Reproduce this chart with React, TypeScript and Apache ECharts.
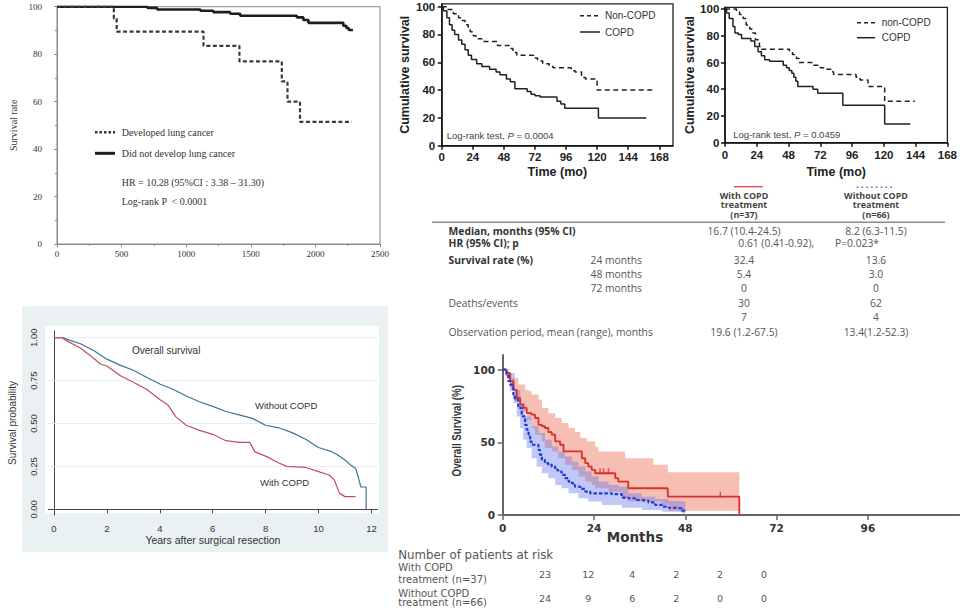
import React, { useEffect, useRef } from "react";
import * as echarts from "echarts";

// ---------- Panel A: lung cancer development (days, survival %) ----------
const aDevelopedLungCancer: number[][] = [[0, 100], [440, 95], [462, 89.5], [1134, 83.5], [1412, 77], [1740, 68.5], [1784, 60], [1881, 51.5], [2281, 51.5]];
const aNoLungCancer: number[][] = [[0, 100], [700, 99.5], [775, 98.8], [1110, 98.3], [1210, 97.7], [1340, 97], [1418, 96.2], [1856, 95.5], [1907, 94.4], [1946, 93.2], [2216, 92], [2240, 91], [2258, 90.2], [2290, 90]];

// ---------- Panel B: cumulative survival (months, %) ----------
const bNonCopd: number[][] = [[0, 100], [5, 98], [9, 95], [13, 92], [15.5, 90], [18, 87], [20.5, 85], [22, 82], [24.5, 79], [26.5, 77], [31, 75], [43, 72], [52, 70], [55, 67], [58, 65], [71, 63], [74, 61], [78, 59], [83, 57], [86, 56], [100, 54], [103, 53], [108, 49], [111, 48], [120, 40], [164, 40]];
const bCopd: number[][] = [[0, 100], [1.3, 97], [4, 92], [6, 87], [8, 83], [10, 80], [13, 76], [15.5, 73], [18, 69], [20.5, 65], [23, 62], [27, 59], [31, 57], [37, 55], [42, 53], [45, 51], [50, 48], [53, 46], [56.5, 41], [66, 39], [69, 37], [72, 36], [76, 35], [89, 32], [92, 30], [95, 27], [121, 20], [158, 20]];

// ---------- Panel C: cumulative survival (months, %) ----------
const cNonCopd: number[][] = [[0, 100], [8.7, 98.5], [11, 96], [13.7, 93], [16, 88], [18.7, 85], [21, 82], [23, 77], [26, 72], [27.5, 70], [48.7, 68], [51, 66], [54, 63], [56, 60], [67, 58], [72, 56], [77, 55], [80, 53], [82, 51], [99, 49], [102, 47], [108, 42], [120.6, 31], [143.5, 31]];
const cCopd: number[][] = [[0, 100], [1.2, 97], [3.2, 93], [6, 87], [7.5, 82], [10, 81], [12.5, 78], [19.5, 76], [22.5, 72], [25, 68], [27.5, 65], [30, 62], [33.7, 61], [44, 58], [46.5, 56], [48.5, 54], [50.5, 52], [52, 49], [53.5, 46], [55, 42], [66.5, 40], [70, 37], [89, 28], [120.6, 14], [140, 14]];

// ---------- Panel D: survival probability (years) ----------
const dWithoutCopd: number[][] = [[0, 1], [0.3, 1], [0.5, 0.99], [1, 0.965], [1.5, 0.925], [2, 0.875], [2.5, 0.84], [3, 0.81], [3.5, 0.77], [4, 0.73], [4.5, 0.7], [5, 0.66], [5.5, 0.627], [6, 0.6], [6.5, 0.57], [7, 0.55], [7.5, 0.53], [8, 0.49], [8.5, 0.475], [9, 0.447], [9.5, 0.41], [10, 0.36], [10.5, 0.336], [10.7, 0.32], [11, 0.287], [11.2, 0.26], [11.4, 0.24], [11.5, 0.19], [11.6, 0.13], [11.8, 0.13], [11.8, 0]];
const dWithCopd: number[][] = [[0, 1], [0.3, 1], [0.5, 0.98], [1, 0.94], [1.5, 0.88], [1.75, 0.847], [2, 0.835], [2.5, 0.78], [3, 0.74], [3.5, 0.7], [4, 0.64], [4.3, 0.61], [4.6, 0.54], [5, 0.49], [5.5, 0.46], [6, 0.437], [6.5, 0.4], [7, 0.39], [7.4, 0.39], [7.6, 0.335], [8, 0.31], [8.5, 0.27], [8.8, 0.25], [9.5, 0.245], [10, 0.22], [10.4, 0.2], [10.6, 0.17], [10.8, 0.093], [11, 0.074], [11.4, 0.074]];
const dGridValues = [0.25, 0.5, 0.75, 1];

// ---------- Panel E: overall survival (months, %) with 95% CI ----------
const eWithLine: number[][] = [[0, 100], [1, 97.7], [1.9, 92], [2.8, 86], [3.7, 80.5], [4.6, 75.9], [5.4, 73.6], [6.3, 70], [7.6, 69], [8.5, 66.7], [9.4, 62], [10.3, 61], [11.1, 59.8], [12, 57], [12.9, 55.2], [13.8, 50.6], [15.1, 48.3], [16, 43.7], [20.8, 39], [21.7, 35.6], [22.5, 33.3], [23.4, 31], [24.3, 28.7], [29.6, 25.3], [30.4, 23], [33, 18.4], [43.4, 12.6], [62.2, 0]];
const eWithUpper: number[][] = [[0, 100], [1.5, 97.7], [2.4, 94], [4.1, 89.7], [5.9, 86], [6.8, 85], [7.6, 82.8], [9.4, 79.3], [10.3, 73.6], [12, 70], [13.8, 66.7], [15.5, 63.2], [17.3, 59.8], [19, 57], [20.4, 52.9], [22.1, 50.6], [24.3, 47], [25.2, 43.7], [32.2, 39], [39.6, 34.5], [43.4, 29.4], [62.2, 29.4]];
const eWithLower: number[][] = [[0, 100], [1, 95.4], [1.9, 87.4], [3.2, 78], [4.6, 71.3], [6.3, 65.5], [7.6, 59.8], [8.5, 55.2], [10.3, 50.6], [11.1, 46], [12.9, 43.7], [14.6, 39], [16.4, 34.5], [18.2, 31], [19.9, 26.4], [21.7, 23], [23.4, 20.7], [24.3, 18.4], [27.8, 16], [31.3, 11.5], [33, 9.2], [41.8, 6.9], [43.6, 3], [62.2, 3]];
const eWithCensored: number[][] = [[25.6, 28.7], [26.5, 28.7], [27.8, 28.7], [57.2, 12.6]];
const eWithoutLine: number[][] = [[0, 100], [1, 96.6], [1.5, 92], [1.9, 89.7], [2.8, 82.8], [3.2, 79.3], [4.1, 73.6], [5, 67.8], [5.9, 62], [6.3, 58.6], [6.8, 55.2], [7.2, 50.6], [7.6, 48.3], [9.4, 44.8], [9.8, 41.4], [10.3, 37.9], [11.1, 35.6], [12, 34.5], [12.9, 33.3], [13.8, 31], [14.6, 29.9], [15.5, 27.6], [16.4, 25.3], [17.3, 23], [18.2, 21.8], [19, 19.5], [20.4, 17.9], [21.7, 16.1], [23, 14.9], [28.7, 14.3], [31.3, 12], [33, 11.5], [34.8, 10.3], [36.6, 9.9], [38.3, 8.7], [40.1, 6.9], [41.8, 5.7], [43.6, 5], [45.4, 4.6], [47.1, 3], [48, 2.5]];
const eWithoutUpper: number[][] = [[0, 100], [1.5, 97.7], [3.2, 86], [4.6, 77], [5.9, 67.8], [7.6, 61], [9.4, 56.3], [11.1, 51.7], [12.9, 47], [14.6, 43.7], [16.4, 40.2], [18.2, 36.8], [19.9, 33.3], [21.7, 29.9], [23.4, 26.4], [25.2, 23], [27.8, 20.7], [30.4, 19.5], [33, 14.9], [36.6, 12.6], [40.1, 11], [43.6, 9.7], [47.1, 9.2], [48, 9.2]];
const eWithoutLower: number[][] = [[0, 100], [1, 94], [1.9, 85], [2.8, 77], [3.7, 67.8], [4.6, 59.8], [5.4, 51.7], [6.3, 46], [7.6, 39], [8.9, 33.3], [10.3, 28.7], [12, 25.3], [13.8, 20.7], [15.5, 18.4], [17.3, 14.9], [19.9, 11.5], [22.5, 9.2], [26.1, 6.9], [31.3, 5], [36.6, 3.4], [41.8, 2.3], [47.1, 1.1], [48, 1.1]];
const eRiskWith = [23, 12, 4, 2, 2, 0];
const eRiskWithout = [24, 9, 6, 2, 0, 0];

// ---------- Table ----------
const tblHeaderWith = ["With COPD", "treatment", "(n=37)"];
const tblHeaderWithout = ["Without COPD", "treatment", "(n=66)"];
const tblMedian = ["16.7 (10.4-24.5)", "8.2 (6.3-11.5)"];
const tblHR = ["0.61 (0.41-0.92),", "P=0.023*"];
const tblSurvivalMonths = ["24 months", "48 months", "72 months"];
const tblSurvivalWith = ["32.4", "5.4", "0"];
const tblSurvivalWithout = ["13.6", "3.0", "0"];
const tblDeaths = ["30", "62"];
const tblEvents = ["7", "4"];
const tblObservation = ["19.6 (1.2-67.5)", "13.4(1.2-52.3)"];

const SERIF = "'Liberation Serif', 'Times New Roman', serif";
const ARIAL = "'Liberation Sans', Arial, sans-serif";
const OPEN = "'Open Sans', 'Liberation Sans', sans-serif";
const VERD = "'DejaVu Sans', Verdana, sans-serif";

function txt(x: number, y: number, text: string, size: number, family: string, opts: any = {}) {
  return {
    type: "text",
    x,
    y,
    silent: true,
    rotation: opts.rotation || 0,
    scaleX: opts.scaleX || 1,
    z: 50,
    style: {
      text,
      fontSize: size,
      fontFamily: family,
      fontWeight: opts.weight || "normal",
      fontStyle: opts.style || "normal",
      fill: opts.fill || "#333",
      align: opts.align || "left",
      verticalAlign: "middle",
      textAlign: opts.align || "left",
      textVerticalAlign: "middle",
      rich: opts.rich,
    },
  };
}

function seg(x1: number, y1: number, x2: number, y2: number, stroke: string, width: number, dash?: number[]) {
  return {
    type: "line",
    silent: true,
    z: 50,
    shape: { x1, y1, x2, y2 },
    style: { stroke, lineWidth: width, lineDash: dash || null },
  };
}

function kmLine(data: number[][], idx: number, color: string, width: number, type: any, step: any = "end") {
  return {
    type: "line",
    xAxisIndex: idx,
    yAxisIndex: idx,
    data,
    step,
    symbol: "none",
    showSymbol: false,
    silent: true,
    lineStyle: { color, width, type },
    z: 5,
  };
}

function band(idx: number, upper: number[][], lower: number[][], fill: string) {
  return {
    type: "custom",
    xAxisIndex: idx,
    yAxisIndex: idx,
    silent: true,
    clip: true,
    z: 2,
    data: [[0, 0]],
    encode: { x: 0, y: 1 },
    renderItem: (_p: any, api: any) => {
      const pts: number[][] = [];
      for (let i = 0; i < upper.length; i++) {
        if (i > 0) pts.push(api.coord([upper[i][0], upper[i - 1][1]]));
        pts.push(api.coord([upper[i][0], upper[i][1]]));
      }
      for (let i = lower.length - 1; i >= 0; i--) {
        pts.push(api.coord([lower[i][0], lower[i][1]]));
        if (i > 0) pts.push(api.coord([lower[i][0], lower[i - 1][1]]));
      }
      return { type: "polygon", shape: { points: pts }, style: { fill } };
    },
  };
}

function buildOption(): any {
  const prismAxis = (labelMargin: number) => ({
    axisLine: { show: true, lineStyle: { color: "#111", width: 1.5 } },
    axisTick: { show: true, length: 4, lineStyle: { color: "#111", width: 1.5 } },
    axisLabel: { fontFamily: ARIAL, fontWeight: "bold", fontSize: 11.5, color: "#222", margin: labelMargin },
    splitLine: { show: false },
  });
  const prismName = { fontFamily: ARIAL, fontWeight: "bold", fontSize: 12.5, color: "#222" };
  const ticks24 = [0, 24, 48, 72, 96, 120, 144, 168];
  const ticks20 = [0, 20, 40, 60, 80, 100];
  const plain = (v: number) => String(v);

  const grid = [
    { left: 57, top: 6.7, width: 323, height: 237.3, show: true, borderColor: "#8a8a8a", borderWidth: 1, backgroundColor: "transparent" },
    { left: 441.7, top: 3.9, width: 231.3, height: 141.8, show: true, borderColor: "#222", borderWidth: 1.3, backgroundColor: "transparent" },
    { left: 725, top: 7.3, width: 224.3, height: 135.4, show: true, borderColor: "#222", borderWidth: 1.3, backgroundColor: "transparent" },
    { left: 48.3, top: 331, width: 329.2, height: 184, show: false },
    { left: 502.7, top: 355, width: 456.5, height: 160, show: false },
  ];

  const xAxis = [
    {
      gridIndex: 0, type: "value", min: 0, max: 2500, interval: 500,
      axisLine: { lineStyle: { color: "#8a8a8a", width: 1 } },
      axisTick: { show: true, length: 3, lineStyle: { color: "#8a8a8a" } },
      minorTick: { show: true, splitNumber: 2, length: 2, lineStyle: { color: "#8a8a8a" } },
      axisLabel: { fontFamily: SERIF, fontSize: 9, color: "#333", margin: 5, formatter: plain },
      splitLine: { show: false },
    },
    {
      gridIndex: 1, type: "value", min: 0, max: 178.6,
      ...prismAxis(5.3),
      axisTick: { show: true, length: 4, lineStyle: { color: "#111", width: 1.5 }, customValues: ticks24 },
      axisLabel: { fontFamily: ARIAL, fontWeight: "bold", fontSize: 11.5, color: "#222", margin: 5.3, customValues: ticks24, formatter: plain },
      name: "Time (mo)", nameLocation: "middle", nameGap: 19.3, nameTextStyle: prismName,
    },
    {
      gridIndex: 2, type: "value", min: 0, max: 168, interval: 24,
      ...prismAxis(6.6),
      name: "Time (mo)", nameLocation: "middle", nameGap: 22.3, nameTextStyle: prismName,
    },
    {
      gridIndex: 3, type: "value", min: -0.215, max: 12.23,
      axisLine: { lineStyle: { color: "#444", width: 1 } },
      axisTick: { show: true, length: 4, lineStyle: { color: "#444" }, customValues: [0, 2, 4, 6, 8, 10, 12] },
      axisLabel: { fontFamily: ARIAL, fontSize: 9.5, color: "#333", margin: 8.5, customValues: [0, 2, 4, 6, 8, 10, 12], formatter: plain },
      splitLine: { show: false },
      name: "Years after surgical resection", nameLocation: "middle", nameGap: 18,
      nameTextStyle: { fontFamily: ARIAL, fontSize: 10.5, color: "#333" },
    },
    {
      gridIndex: 4, type: "value", min: 0, max: 120, interval: 24,
      axisLine: { lineStyle: { color: "#666", width: 2 } },
      axisTick: { show: true, length: 5, lineStyle: { color: "#666", width: 1.5 } },
      axisLabel: { fontFamily: VERD, fontWeight: "bold", fontSize: 10.5, color: "#333", margin: 7, showMaxLabel: false, formatter: (v: number) => (v >= 120 ? "" : String(v)) },
      splitLine: { show: false },
    },
  ];

  const yAxis = [
    {
      gridIndex: 0, type: "value", min: 0, max: 100, interval: 20,
      axisLine: { lineStyle: { color: "#8a8a8a", width: 1 } },
      axisTick: { show: true, length: 3, lineStyle: { color: "#8a8a8a" } },
      minorTick: { show: true, splitNumber: 2, length: 2, lineStyle: { color: "#8a8a8a" } },
      axisLabel: { fontFamily: SERIF, fontSize: 9, color: "#333", margin: 15 },
      splitLine: { show: false },
      name: "Survival rate", nameLocation: "middle", nameGap: 38.7,
      nameTextStyle: { fontFamily: SERIF, fontSize: 10, color: "#333" },
    },
    {
      gridIndex: 1, type: "value", min: 0, max: 102,
      ...prismAxis(6.5),
      axisTick: { show: true, length: 4, lineStyle: { color: "#111", width: 1.5 }, customValues: ticks20 },
      axisLabel: { fontFamily: ARIAL, fontWeight: "bold", fontSize: 11.5, color: "#222", margin: 6.5, customValues: ticks20 },
      name: "Cumulative survival", nameLocation: "middle", nameGap: 30.4, nameTextStyle: prismName,
    },
    {
      gridIndex: 2, type: "value", min: 0, max: 101.3,
      ...prismAxis(5.7),
      axisTick: { show: true, length: 4, lineStyle: { color: "#111", width: 1.5 }, customValues: ticks20 },
      axisLabel: { fontFamily: ARIAL, fontWeight: "bold", fontSize: 11.5, color: "#222", margin: 5.7, customValues: ticks20 },
      name: "Cumulative survival", nameLocation: "middle", nameGap: 28.7, nameTextStyle: prismName,
    },
    {
      gridIndex: 3, type: "value", min: -0.033, max: 1.039,
      axisLine: { lineStyle: { color: "#444", width: 1 } },
      axisTick: { show: true, length: 4, lineStyle: { color: "#444" }, customValues: [0, 0.25, 0.5, 0.75, 1] },
      axisLabel: { fontFamily: ARIAL, fontSize: 9.5, color: "#333", margin: 10, rotate: 90, customValues: [0, 0.25, 0.5, 0.75, 1], formatter: (v: number) => v.toFixed(2) },
      splitLine: { show: false },
      name: "Survival probability", nameLocation: "middle", nameGap: 31.3,
      nameTextStyle: { fontFamily: ARIAL, fontSize: 10, color: "#333" },
    },
    {
      gridIndex: 4, type: "value", min: 0, max: 110,
      axisLine: { lineStyle: { color: "#666", width: 2 } },
      axisTick: { show: true, length: 5, lineStyle: { color: "#666", width: 1.5 }, customValues: [0, 50, 100] },
      axisLabel: { fontFamily: VERD, fontWeight: "bold", fontSize: 10.5, color: "#333", margin: 7.7, customValues: [0, 50, 100] },
      splitLine: { show: false },
    },
  ];

  const series: any[] = [
    kmLine(aNoLungCancer, 0, "#1e1e1e", 2.6, "solid"),
    kmLine(aDevelopedLungCancer, 0, "#3a3a3a", 2.2, [4, 2.5]),
    kmLine(bNonCopd, 1, "#222", 1.5, [5, 3.5]),
    kmLine(bCopd, 1, "#222", 1.5, "solid"),
    kmLine(cNonCopd, 2, "#222", 1.5, [5, 3.5]),
    kmLine(cCopd, 2, "#222", 1.5, "solid"),
    {
      ...kmLine(dWithoutCopd, 3, "#3a7890", 1.2, "solid", false),
      markLine: {
        silent: true,
        symbol: "none",
        label: { show: false },
        lineStyle: { color: "#e6eef1", width: 1, type: "solid" },
        data: dGridValues.map((v) => ({ yAxis: v })),
        z: 1,
      },
    },
    kmLine(dWithCopd, 3, "#c0505f", 1.2, "solid", false),
    band(4, eWithUpper, eWithLower, "rgba(240,125,105,0.5)"),
    band(4, eWithoutUpper, eWithoutLower, "rgba(90,110,235,0.38)"),
    kmLine(eWithLine, 4, "#d8312a", 1.8, "solid"),
    kmLine(eWithoutLine, 4, "#2438d8", 2.2, [3.5, 2]),
    {
      type: "scatter",
      xAxisIndex: 4,
      yAxisIndex: 4,
      data: eWithCensored,
      symbol: "rect",
      symbolSize: [1.4, 6],
      symbolOffset: [0, -2],
      itemStyle: { color: "#d8312a" },
      silent: true,
      z: 6,
    },
  ];

  // ---------- graphic decorations & texts ----------
  const g: any[] = [];
  // Panel D background
  g.push({ type: "rect", z: -10, silent: true, shape: { x: 22, y: 306, width: 366, height: 246 }, style: { fill: "#e9f1f3" } });
  g.push({ type: "rect", z: -9, silent: true, shape: { x: 45, y: 326, width: 334, height: 187 }, style: { fill: "#ffffff" } });

  // Panel A legend / annotation
  g.push(seg(95, 132.3, 115, 132.3, "#333", 2.4, [2.5, 2]));
  g.push(txt(121.7, 132.3, "Developed lung cancer", 10, SERIF));
  g.push(seg(95, 153.3, 115, 153.3, "#1e1e1e", 3));
  g.push(txt(121.7, 153.3, "Did not develop lung cancer", 10, SERIF));
  g.push(txt(121.7, 182.3, "HR = 10.28 (95%CI : 3.38 \u2013 31.30)", 10, SERIF));
  g.push(txt(121.7, 201, "Log-rank P  < 0.0001", 10, SERIF));

  // Panel B legend
  g.push(seg(580, 15.7, 600, 15.7, "#222", 1.5, [4, 3]));
  g.push(txt(605, 15.7, "Non-COPD", 10, ARIAL));
  g.push(seg(580, 32, 600, 32, "#222", 1.5));
  g.push(txt(605, 32, "COPD", 10, ARIAL));
  g.push(
    txt(446.7, 135.7, "Log-rank test, {i|P} = 0.0004", 9.5, ARIAL, {
      fill: "#444",
      rich: { i: { fontStyle: "italic", fontSize: 9.5, fontFamily: ARIAL, fill: "#444" } },
    })
  );

  // Panel C legend
  g.push(seg(857, 22.7, 875, 22.7, "#222", 1.5, [4, 3]));
  g.push(txt(881.7, 22.7, "non-COPD", 10, ARIAL));
  g.push(seg(857, 37.7, 875, 37.7, "#222", 1.5));
  g.push(txt(881.7, 37.7, "COPD", 10, ARIAL));
  g.push(
    txt(733.3, 134.3, "Log-rank test, {i|P} = 0.0459", 9.5, ARIAL, {
      fill: "#444",
      rich: { i: { fontStyle: "italic", fontSize: 9.5, fontFamily: ARIAL, fill: "#444" } },
    })
  );

  // Table
  const c1 = 744;
  const c2 = 876;
  const lx = 448.6;
  const sx = 590.6;
  const FS = 10.3;
  g.push(seg(734, 186.7, 762.7, 186.7, "#e05555", 1.5));
  g.push(seg(856.7, 187.3, 893.3, 187.3, "#5a6ad8", 1.6, [1.6, 3.2]));
  const headY = [195.5, 205.2, 214.9];
  tblHeaderWith.forEach((s, i) => g.push(txt(c1, headY[i], s, 8, OPEN, { weight: "bold", align: "center", fill: "#444", scaleX: 1.12 })));
  tblHeaderWithout.forEach((s, i) => g.push(txt(c2, headY[i], s, 8, OPEN, { weight: "bold", align: "center", fill: "#444", scaleX: 1.12 })));
  g.push(seg(432, 222.3, 945, 222.3, "#8a8a8a", 1.5));
  const rowY = [230.7, 243.3, 259.7, 273.7, 288, 303.3, 316.7, 332.3];
  const B = { weight: "bold", fill: "#333" };
  const N = { fill: "#555" };
  const NC = { fill: "#555", align: "center" };
  g.push(txt(lx, rowY[0], "Median, months (95% CI)", FS, OPEN, B));
  g.push(txt(c1, rowY[0], tblMedian[0], FS, OPEN, NC));
  g.push(txt(c2, rowY[0], tblMedian[1], FS, OPEN, NC));
  g.push(txt(lx, rowY[1], "HR (95% CI); p", FS, OPEN, B));
  g.push(txt(738.3, rowY[1], tblHR[0], FS, OPEN, N));
  g.push(txt(835, rowY[1], tblHR[1], FS, OPEN, N));
  g.push(txt(lx, rowY[2], "Survival rate (%)", FS, OPEN, B));
  tblSurvivalMonths.forEach((m, i) => {
    g.push(txt(sx, rowY[2 + i], m, FS, OPEN, N));
    g.push(txt(c1, rowY[2 + i], tblSurvivalWith[i], FS, OPEN, NC));
    g.push(txt(c2, rowY[2 + i], tblSurvivalWithout[i], FS, OPEN, NC));
  });
  g.push(txt(lx, rowY[5], "Deaths/events", FS, OPEN, N));
  g.push(txt(c1, rowY[5], tblDeaths[0], FS, OPEN, NC));
  g.push(txt(c2, rowY[5], tblDeaths[1], FS, OPEN, NC));
  g.push(txt(c1, rowY[6], tblEvents[0], FS, OPEN, NC));
  g.push(txt(c2, rowY[6], tblEvents[1], FS, OPEN, NC));
  g.push(txt(lx, rowY[7], "Observation period, mean (range), months", FS, OPEN, N));
  g.push(txt(c1, rowY[7], tblObservation[0], FS, OPEN, NC));
  g.push(txt(c2, rowY[7], tblObservation[1], FS, OPEN, NC));

  // Panel D labels
  g.push(txt(132, 350.7, "Overall survival", 10, ARIAL));
  g.push(txt(255, 405, "Without COPD", 9.5, ARIAL));
  g.push(txt(260, 482.7, "With COPD", 9.5, ARIAL));

  // Panel E labels and risk table
  g.push(txt(456.7, 430.7, "Overall Survival (%)", 12.5, ARIAL, { weight: "bold", align: "center", rotation: Math.PI / 2, scaleX: 0.78 }));
  g.push(txt(635, 537.3, "Months", 13.5, VERD, { weight: "bold", align: "center" }));
  g.push(txt(398.3, 555, "Number of patients at risk", 11.8, VERD, { fill: "#555" }));
  g.push(txt(398.3, 567.7, "With COPD", 10, VERD, { fill: "#555" }));
  g.push(txt(398.3, 579, "treatment (n=37)", 10, VERD, { fill: "#555" }));
  g.push(txt(398.3, 593.3, "Without COPD", 10, VERD, { fill: "#555" }));
  g.push(txt(398.3, 602.7, "treatment (n=66)", 10, VERD, { fill: "#555" }));
  const riskX = [545, 588.3, 632.3, 676.3, 720, 764];
  eRiskWith.forEach((v, i) => g.push(txt(riskX[i], 574.3, String(v), 9.5, VERD, { fill: "#555", align: "center" })));
  eRiskWithout.forEach((v, i) => g.push(txt(riskX[i], 598.3, String(v), 9.5, VERD, { fill: "#555", align: "center" })));

  return {
    animation: false,
    backgroundColor: "#ffffff",
    grid,
    xAxis,
    yAxis,
    series,
    graphic: { elements: g },
  };
}

export default function App() {
  const ref = useRef<HTMLDivElement>(null);
  useEffect(() => {
    if (!ref.current) return;
    const chart = echarts.init(ref.current, undefined, { renderer: "svg" });
    chart.setOption(buildOption());
    return () => chart.dispose();
  }, []);
  return (
    <div
      ref={ref}
      style={{ position: "absolute", left: 0, top: 0, width: 960, height: 615, background: "#fff" }}
    />
  );
}
